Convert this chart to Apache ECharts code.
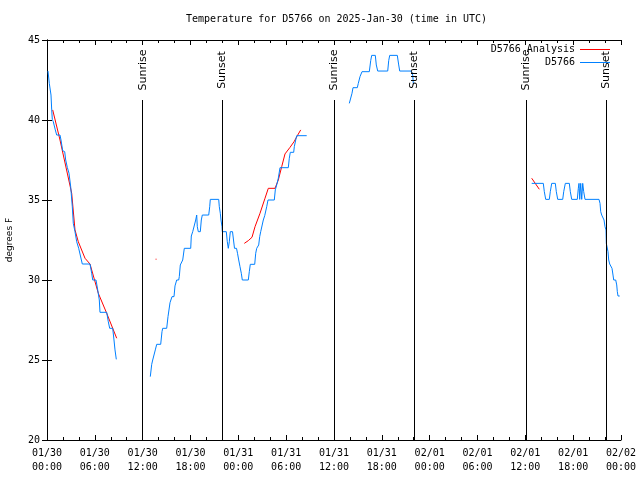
<!DOCTYPE html>
<html>
<head>
<meta charset="utf-8">
<script src="https://cdn.jsdelivr.net/npm/echarts@6/dist/echarts.min.js"></script>
<style>html,body{margin:0;padding:0;background:#fff}#c{width:640px;height:480px}</style>
</head>
<body>
<div id="c"></div>
<script>
// ---- data (hours since 2025-01-30 00:00 UTC, temperature in F) ----
const dayLabels = ['01/30', '01/31', '02/01', '02/02'];
const yTicks = [20, 25, 30, 35, 40, 45];

const obsHours1 = [0.125,0.289,0.502,0.59,0.665,0.79,1.041,1.217,1.631,1.756,1.969,2.22,2.346,2.546,2.76,2.973,3.174,3.299,3.512,3.726,3.976,4.139,4.428,5.394,5.607,5.733,6.147,6.36,6.56,6.648,7.489,7.69,7.865,8.241,8.404,8.53,8.693];
const obsTemps1 = [43.06,42.29,41.56,40.63,40.04,39.89,39.38,39.06,39.06,38.75,38.08,38.02,37.5,37.04,36.67,35.83,34.58,33.54,33.02,32.39,31.98,31.88,31.0,31.0,30.42,30.0,30.0,29.38,28.75,27.98,27.98,27.39,26.98,26.98,26.25,25.63,25.04];

const obsHours2 = [12.958,13.134,13.259,13.46,13.585,13.761,14.262,14.425,14.513,15.015,15.178,15.429,15.68,15.931,16.056,16.269,16.52,16.596,16.721,16.934,17.022,17.223,18.026,18.101,18.277,18.527,18.653,18.778,18.853,18.979,19.23,19.355,19.481,20.284,20.409,20.484,21.538,21.613,21.739,21.827,21.952,21.99,22.491,22.617,22.742,22.868,22.993,23.269,23.394,23.52,23.771,23.896,24.047,24.21,24.373,24.498,25.251,25.376,25.502,26.054,26.179,26.305,26.555,26.681,26.806,27.007,27.132,27.308,27.471,27.559,27.722,28.512,28.637,28.813,29.014,29.227,30.268,30.393,30.519,30.945,31.021,31.197,31.322,32.576];
const obsTemps2 = [23.96,24.73,25.0,25.0,25.63,25.98,25.98,26.77,26.98,26.98,27.71,28.58,28.96,28.96,29.63,30.0,30.0,30.21,30.94,31.04,31.25,31.98,31.98,32.75,33.02,33.02,33.75,34.06,33.33,33.02,33.02,33.75,34.06,34.06,34.58,35.04,35.04,34.58,34.17,33.75,33.33,33.02,33.02,32.39,31.98,32.39,33.02,33.02,32.5,31.98,31.98,31.67,31.25,30.83,30.42,30.0,30.0,30.52,30.98,30.98,31.67,31.98,32.19,32.71,33.02,33.02,33.75,34.02,34.02,34.58,35.0,35.0,35.63,35.94,36.36,37.02,37.02,37.61,37.98,37.98,38.33,38.75,39.02,39.02];

const obsHours3 = [37.92,38.133,38.259,38.384,38.924,39.049,39.262,39.513,40.429,40.604,40.73,41.181,41.307,41.482,42.737,42.862,42.988,43.941,44.117,44.242,45.66,45.873,45.948];
const obsTemps3 = [41.04,41.04,41.67,42.02,42.02,42.29,42.71,43.02,43.02,43.71,44.04,44.04,43.44,43.06,43.06,43.71,44.04,44.04,43.44,43.06,43.06,42.81,42.29];

const obsHours4 = [60.8,62.255,62.381,62.556,63.008,63.133,63.309,63.761,63.886,64.062,64.689,64.814,65.015,65.517,65.642,65.818,66.52,66.646,66.733,66.821,66.947,67.072,67.198,67.323,67.486,69.242,69.368,69.456,69.581,69.782,69.87,69.995,70.12,70.158,70.283,70.371,70.459,70.584,70.747,70.873,70.998,71.086,71.337,71.463,71.538,71.626,71.839];
const obsTemps4 = [36.04,36.04,35.52,35.04,35.04,35.52,36.04,36.04,35.52,35.04,35.04,35.52,36.04,36.04,35.52,35.04,35.04,35.73,36.04,35.04,36.04,35.04,36.04,35.52,35.04,35.04,34.79,34.27,34.06,34.06,33.75,33.33,33.13,32.29,32.19,31.77,31.25,31.0,30.94,30.73,30.31,30.0,30.0,29.69,29.27,29.0,29.0];

const anaHours1 = [0.715,1.631,3.098,3.512,3.926,4.767,5.394,6.435,7.489,8.743];
const anaTemps1 = [40.63,38.75,35.42,33.13,32.39,31.36,31.0,29.17,27.92,26.36];
const anaHours2 = [13.62,13.74];
const anaTemps2 = [31.3,31.3];
const anaHours3 = [24.749,25.251,25.715,26.091,26.718,27.346,27.76,28.6,29.014,29.44,29.854,30.482,30.983,31.448,31.824];
const anaTemps3 = [32.29,32.46,32.67,33.33,34.17,35.11,35.73,35.73,36.25,37.08,37.88,38.29,38.64,39.06,39.38];
const anaHours4 = [60.8,61.753];
const anaTemps4 = [36.36,35.67];

const sunEventHours = [12.0, 21.98, 36.08, 46.05, 60.12, 70.1];
const sunEventNames = ['Sunrise', 'Sunset', 'Sunrise', 'Sunset', 'Sunrise', 'Sunset'];
const sunLineTop = 41.25;

// ---- build ----
function segs(pairs) {
  const out = [];
  pairs.forEach(([hs, ts], i) => {
    if (i > 0) out.push([hs[0], null]);
    hs.forEach((h, k) => out.push([h, ts[k]]));
  });
  return out;
}
const obsData = segs([[obsHours1, obsTemps1], [obsHours2, obsTemps2], [obsHours3, obsTemps3], [obsHours4, obsTemps4]]);
const anaData = segs([[anaHours1, anaTemps1], [anaHours2, anaTemps2], [anaHours3, anaTemps3], [anaHours4, anaTemps4]]);

const yMin = yTicks[0], yMax = yTicks[yTicks.length - 1];
const clear = 'rgba(0,0,0,0)';
const sunMarks = [];
sunEventHours.forEach((h, i) => {
  sunMarks.push([{ coord: [h, yMin] }, { coord: [h, sunLineTop] }]);
  sunMarks.push([
    { coord: [h, sunLineTop], lineStyle: { color: clear },
      label: { show: true, formatter: sunEventNames[i], position: 'insideMiddle', distance: 0,
               fontFamily: 'DejaVu Sans', fontSize: 11, color: '#000' } },
    { coord: [h, yMax], lineStyle: { color: clear } }
  ]);
});

const mono = 'DejaVu Sans Mono';
const xAxisBase = {
  type: 'value', min: 0, max: 72, interval: 6,
  axisLine: { lineStyle: { color: '#000', width: 1 } },
  axisTick: { inside: true, length: 5, lineStyle: { color: '#000' } },
  minorTick: { show: true, splitNumber: 3, length: 3, lineStyle: { color: '#000' } },
  splitLine: { show: false }, minorSplitLine: { show: false }
};
const yAxisBase = {
  type: 'value', min: yMin, max: yMax, interval: 5,
  axisLine: { show: true, lineStyle: { color: '#000', width: 1 } },
  axisTick: { show: true, inside: true, length: 5, lineStyle: { color: '#000' } },
  splitLine: { show: false }
};

const chart = echarts.init(document.getElementById('c'), null, { renderer: 'canvas' });
chart.setOption({
  animation: false,
  backgroundColor: '#fff',
  title: {
    text: 'Temperature for D5766 on 2025-Jan-30 (time in UTC)',
    left: 181, top: 9,
    textStyle: { fontFamily: mono, fontSize: 10, fontWeight: 'normal', color: '#000' }
  },
  legend: {
    data: ['D5766 Analysis', 'D5766'],
    orient: 'vertical', align: 'right', right: 30, top: 43, padding: 0,
    icon: 'rect', itemWidth: 30, itemHeight: 1, itemGap: 0,
    textStyle: { fontFamily: mono, fontSize: 10, color: '#000', lineHeight: 13 }
  },
  grid: { left: 47, right: 19, top: 40, bottom: 40, containLabel: false, outerBoundsMode: 'none' },
  xAxis: [
    Object.assign({}, xAxisBase, {
      position: 'bottom',
      axisLabel: {
        fontFamily: mono, fontSize: 10, color: '#000', margin: 6, lineHeight: 14,
        formatter: v => {
          const d = Math.floor(v / 24 + 1e-9), hh = Math.round(v - d * 24);
          return dayLabels[d] + '\n' + String(hh).padStart(2, '0') + ':00';
        }
      }
    }),
    Object.assign({}, xAxisBase, { position: 'top', axisLabel: { show: false } })
  ],
  yAxis: [
    Object.assign({}, yAxisBase, {
      position: 'left', name: 'degrees F', nameLocation: 'middle', nameGap: 33,
      nameTextStyle: { fontFamily: 'DejaVu Sans', fontSize: 9, color: '#000' },
      axisLabel: { fontFamily: mono, fontSize: 10, color: '#000', margin: 7 }
    }),
    Object.assign({}, yAxisBase, { position: 'right', axisLabel: { show: false } })
  ],
  series: [
    {
      name: 'D5766 Analysis', type: 'line', data: anaData, showSymbol: false, symbol: 'none',
      connectNulls: false, color: '#ff0000', lineStyle: { color: '#ff0000', width: 1 }, z: 2
    },
    {
      name: 'D5766', type: 'line', data: obsData, showSymbol: false, symbol: 'none',
      connectNulls: false, color: '#0080ff', lineStyle: { color: '#0080ff', width: 1 }, z: 3,
      markLine: {
        silent: true, symbol: ['none', 'none'], animation: false,
        lineStyle: { color: '#000', width: 1, type: 'solid' },
        label: { show: false },
        data: sunMarks
      }
    }
  ]
});
</script>
</body>
</html>
